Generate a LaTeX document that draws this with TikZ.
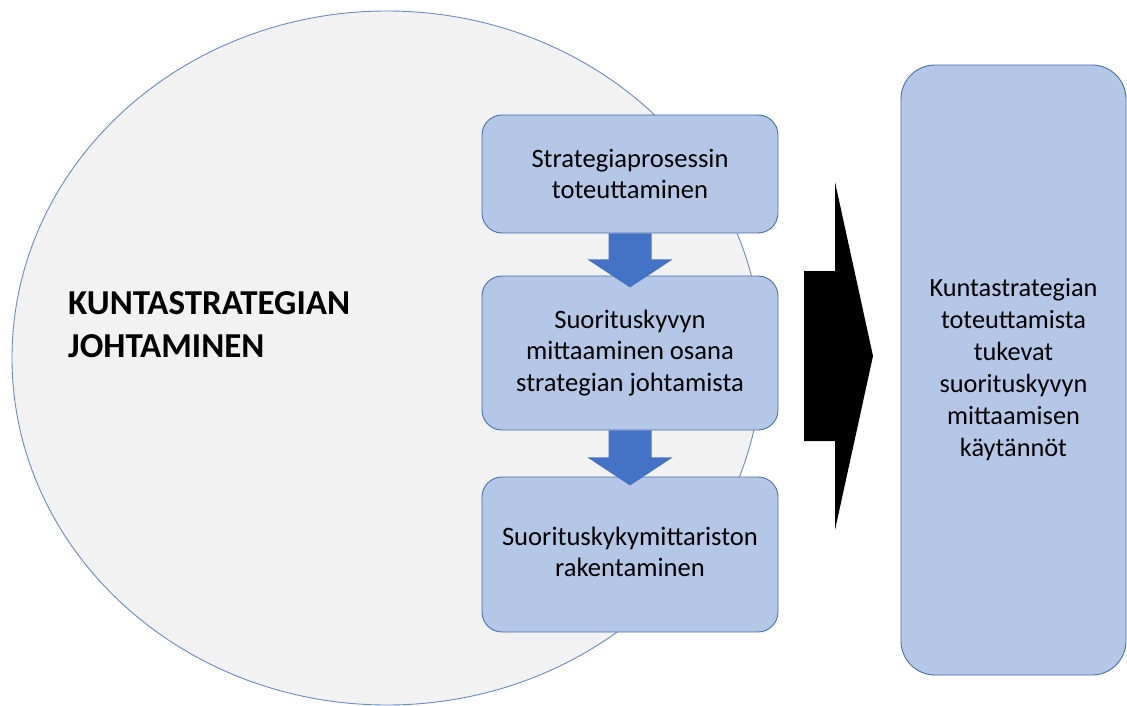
\documentclass[tikz,border=0pt]{standalone}
\usepackage{fontspec}
\setmainfont{Carlito}
\usetikzlibrary{calc}
\definecolor{ellfill}{HTML}{F2F2F2}
\definecolor{elldraw}{HTML}{6A8BC4}
\definecolor{boxfill}{HTML}{B4C7E7}
\definecolor{boxdraw}{HTML}{4A6FAD}
\definecolor{arrfill}{HTML}{4472C4}
\tikzset{
  stepbox/.style={draw=boxdraw, fill=boxfill, line width=0.9pt, rounded corners=20pt,
    minimum width=296pt, align=center, inner sep=0pt,
    font=\fontsize{26.6}{31.5}\selectfont},
  bigbox/.style={draw=boxdraw, fill=boxfill, line width=0.9pt, rounded corners=34pt,
    minimum width=225pt, minimum height=610pt, align=center, inner sep=0pt,
    font=\fontsize{26.3}{32}\selectfont},
  downarrow/.style={fill=arrfill, draw=none},
}
\begin{document}
\begin{tikzpicture}[x=1pt,y=-1pt]
\useasboundingbox (0,0) rectangle (1127,706);
% big ellipse
\path[fill=ellfill, draw=elldraw, line width=0.9pt] (387,358) ellipse [x radius=375, y radius=347];
% title
\node[anchor=west, inner sep=0pt, align=left, font=\fontsize{35}{43}\selectfont\bfseries] (title) at (68,324.5)
  {KUNTASTRATEGIAN\\JOHTAMINEN};
% boxes
\node[stepbox, minimum height=118pt] (b1) at (630,174) {Strategiaprosessin\\toteuttaminen};
\node[stepbox, minimum height=154pt] (b2) at (630,353) {Suorituskyvyn\\mittaaminen osana\\strategian johtamista};
\node[stepbox, minimum height=155pt] (b3) at (630,554.5) {\raisebox{14pt}{\begin{tabular}{@{}c@{}}Suorituskykymittariston\\rakentaminen\end{tabular}}};
% down arrows
\path[downarrow] (b1.south) ++(-21.5,0) -- ++(0,26) -- ++(-21,0) -- ($(b1.south)+(0,54)$) -- ++(42.5,-28) -- ++(-21,0) -- ++(0,-26) -- cycle;
\path[downarrow] (b2.south) ++(-21.5,0) -- ++(0,27) -- ++(-21,0) -- ($(b2.south)+(0,55)$) -- ++(42.5,-28) -- ++(-21,0) -- ++(0,-27) -- cycle;
% big black arrow
\path[fill=black] (804,271) -- (835,271) -- (835,182) -- (873,356) -- (835,530) -- (835,441) -- (804,441) -- cycle;
% right box
\node[bigbox] (rb) at (1013.5,370) {Kuntastrategian\\toteuttamista\\tukevat\\suorituskyvyn\\mittaamisen\\käytännöt};
\end{tikzpicture}
\end{document}
